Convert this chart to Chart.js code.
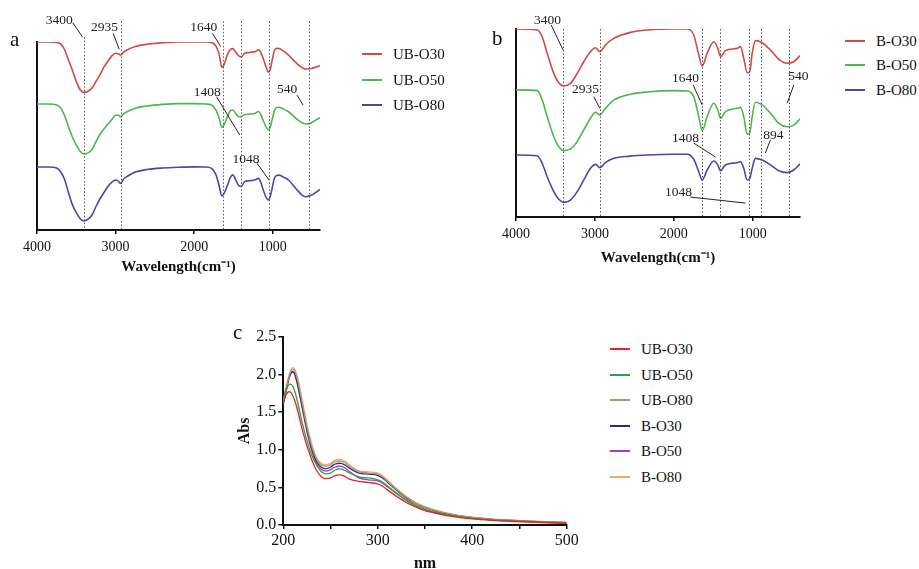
<!DOCTYPE html>
<html>
<head>
<meta charset="utf-8">
<script src="https://cdn.jsdelivr.net/npm/chart.js@4.4.1/dist/chart.umd.min.js"></script>
<style>
html, body { margin:0; padding:0; width:919px; height:569px; overflow:hidden; background:#fff; }
body { font-family:"Liberation Serif", "Times New Roman", serif; color:#111; }
canvas { position:absolute; }
.letter { position:absolute; font-size:21px; line-height:21px; }
.legend div { position:absolute; font-size:15px; line-height:18px; white-space:nowrap; }
.legend span { position:absolute; height:2px; width:20px; }
</style>
</head>
<body>
<canvas id="chartA" width="340" height="290" style="left:0;top:0;width:340px;height:290px"></canvas>
<canvas id="chartB" width="340" height="290" style="left:480px;top:0;width:340px;height:290px"></canvas>
<canvas id="chartC" width="360" height="260" style="left:230px;top:325px;width:360px;height:260px"></canvas>
<div class="letter" style="left:10px;top:29px">a</div>
<div class="letter" style="left:492px;top:28px">b</div>
<div class="letter" style="left:233px;top:322px">c</div>
<div class="legend" id="legA"></div>
<div class="legend" id="legB"></div>
<div class="legend" id="legC"></div>
<script>
// FTIR (a) - golfgetal en doorlaatbaarheid (willekeurige eenheid, verschoven)
const wnA = [4000, 3850, 3750, 3700, 3650, 3600, 3550, 3500, 3450, 3400, 3350, 3300, 3250, 3200, 3150, 3100, 3050, 3000, 2965, 2935, 2900, 2850, 2750, 2600, 2400, 2200, 2000, 1850, 1780, 1720, 1680, 1650, 1620, 1580, 1540, 1510, 1470, 1430, 1400, 1360, 1300, 1230, 1180, 1155, 1120, 1080, 1055, 1035, 1010, 980, 950, 920, 860, 800, 740, 680, 620, 580, 520, 460, 400];
const ubO30a = [100, 100, 99.7, 99, 96, 90.5, 85, 79, 74.5, 73.2, 73.8, 75.5, 79, 82.5, 86.5, 89.8, 92.5, 94, 93.8, 93.1, 94.6, 95.9, 97.6, 98.8, 99.6, 100, 100, 100, 99.8, 97.5, 93, 86.5, 88, 93, 96, 96.5, 94.5, 92.5, 92, 94, 94.4, 94.8, 95.8, 94.5, 91, 86, 84, 85, 90, 95.5, 96.6, 96.5, 95, 93, 90.5, 88, 86.2, 85.6, 85.8, 86.5, 87.5];
const ubO50a = [67, 67, 66.5, 65, 61, 55, 49.5, 45.2, 41.8, 40.4, 41, 42.8, 47, 50.8, 53.6, 56.2, 58.6, 61, 61, 60.2, 61.8, 63, 64.8, 66, 66.8, 67.2, 67.2, 67, 66.5, 63.5, 59, 54.6, 56, 60, 63.5, 63.8, 61.8, 60.2, 60.4, 61.3, 61.6, 62, 63, 61.5, 58, 54.3, 53.3, 54.5, 58.5, 63.5, 65.2, 65.3, 64.3, 62.9, 60.7, 58.5, 56.9, 56.4, 56.8, 58.3, 59.8];
const ubO80a = [33.5, 33.5, 33, 31, 27, 20, 13.5, 9.2, 6, 4.8, 5.8, 8, 12.5, 16.5, 19.8, 23, 25.3, 26.6, 26, 24.8, 27, 28.6, 30.8, 32.2, 33, 33.4, 33.6, 33.5, 32.8, 29, 23, 18.1, 19.5, 23.5, 28, 29.3, 26.5, 23.4, 23.2, 25.7, 26.2, 26.6, 27.5, 25.5, 21, 17, 16, 17.5, 22, 27.5, 29, 29.2, 28, 26.6, 23.8, 20.8, 18.3, 17.7, 18.3, 19.8, 21.6];
const namesA = ['UB-O30', 'UB-O50', 'UB-O80'];
const marksA = [3400, 2935, 1640, 1408, 1048, 540];

// FTIR (b)
const wnB = [4000, 3731, 3668, 3605, 3521, 3458, 3394, 3309, 3224, 3141, 3056, 2992, 2938, 2866, 2760, 2549, 2337, 2000, 1830, 1747, 1683, 1640, 1577, 1493, 1442, 1408, 1345, 1197, 1155, 1113, 1070, 1037, 1006, 965, 880, 774, 669, 563, 479, 400];
const bO30 = [100, 99.5, 95.9, 87.1, 76.4, 71.4, 69.7, 71.1, 76.4, 82.6, 87.9, 90, 87.9, 91.5, 95, 98.2, 99.5, 100, 100, 96.8, 86.2, 80.3, 87.1, 93.2, 89.7, 85.3, 88.5, 89.7, 90.6, 84.4, 76.8, 77.3, 87.1, 93.8, 92.7, 88.8, 83.9, 81.8, 82.6, 85.8];
const bO50 = [67.6, 67.2, 62.2, 53.4, 42.7, 37.4, 35.3, 36.2, 40.1, 46.3, 52.5, 55.7, 54.3, 57.8, 62.2, 65.3, 66.5, 67.2, 67, 64, 53.4, 45.9, 53.4, 60.5, 56.9, 52.5, 56, 57.8, 58.3, 53.4, 44.1, 44.8, 53.4, 61, 59.6, 55.2, 49.8, 48, 48.9, 52.2];
const bO80 = [33, 32.6, 28.6, 21.4, 13.5, 9.4, 7.8, 9, 13.5, 19.7, 25.9, 28, 26.2, 28.9, 31.2, 32.4, 33, 33.4, 33.4, 30.7, 24.1, 19.7, 25, 29.8, 27.7, 24.6, 27.7, 28.9, 29.4, 25.9, 19.7, 20.6, 25.9, 31.2, 30.3, 27.7, 24.6, 23.6, 25, 28.3];
const namesB = ['B-O30', 'B-O50', 'B-O80'];
const marksB = [3400, 2935, 1640, 1408, 1048, 894, 540];

const ticksIR = [4000, 3000, 2000, 1000];

// UV (c) - golflengte (nm) en absorbantie
const nmC = [200, 203, 206, 208, 210, 212, 215, 220, 225, 230, 235, 240, 245, 250, 255, 260, 265, 270, 280, 290, 300, 305, 310, 320, 330, 340, 350, 365, 380, 400, 420, 440, 460, 480, 500];
const uvUbO30 = [1.64, 1.73, 1.77, 1.76, 1.72, 1.66, 1.53, 1.27, 1.05, 0.87, 0.73, 0.645, 0.615, 0.625, 0.655, 0.665, 0.645, 0.61, 0.58, 0.565, 0.545, 0.515, 0.47, 0.38, 0.3, 0.24, 0.19, 0.145, 0.11, 0.08, 0.062, 0.05, 0.04, 0.03, 0.022];
const uvUbO50 = [1.68, 1.8, 1.86, 1.87, 1.84, 1.78, 1.64, 1.36, 1.12, 0.93, 0.8, 0.71, 0.68, 0.69, 0.73, 0.745, 0.725, 0.69, 0.64, 0.625, 0.6, 0.57, 0.52, 0.42, 0.33, 0.26, 0.205, 0.157, 0.12, 0.088, 0.068, 0.055, 0.045, 0.035, 0.027];
const uvUbO80 = [1.62, 1.8, 1.96, 2.04, 2.07, 2.05, 1.93, 1.62, 1.3, 1.05, 0.88, 0.8, 0.78, 0.8, 0.84, 0.85, 0.83, 0.78, 0.71, 0.69, 0.675, 0.64, 0.585, 0.47, 0.37, 0.29, 0.235, 0.178, 0.137, 0.1, 0.078, 0.063, 0.05, 0.04, 0.033];
const uvBO30 = [1.6, 1.78, 1.95, 2.02, 2.04, 2.01, 1.88, 1.58, 1.27, 1.02, 0.85, 0.77, 0.745, 0.77, 0.81, 0.82, 0.8, 0.755, 0.69, 0.675, 0.66, 0.625, 0.57, 0.46, 0.36, 0.285, 0.23, 0.172, 0.132, 0.097, 0.075, 0.06, 0.048, 0.039, 0.031];
const uvBO50 = [1.61, 1.78, 1.94, 2.01, 2.03, 2.0, 1.86, 1.55, 1.24, 0.99, 0.82, 0.74, 0.715, 0.735, 0.77, 0.78, 0.76, 0.71, 0.625, 0.6, 0.585, 0.555, 0.51, 0.42, 0.33, 0.26, 0.205, 0.156, 0.12, 0.087, 0.067, 0.054, 0.044, 0.034, 0.026];
const uvBO80 = [1.65, 1.84, 1.99, 2.06, 2.09, 2.07, 1.96, 1.66, 1.34, 1.08, 0.9, 0.82, 0.8, 0.82, 0.86, 0.87, 0.85, 0.8, 0.72, 0.705, 0.69, 0.655, 0.6, 0.48, 0.38, 0.3, 0.245, 0.185, 0.142, 0.105, 0.082, 0.066, 0.053, 0.043, 0.035];
const namesC = ['UB-O30', 'UB-O50', 'UB-O80', 'B-O30', 'B-O50', 'B-O80'];

const colorsIR = ['#d64848', '#4cb84c', '#4848a8'];
const colorsC = ['#e5232b', '#2e9d4c', '#a89a6c', '#2c2c78', '#9c3cc8', '#f3a66a'];

Chart.defaults.font.family = '"Liberation Serif", "Times New Roman", serif';
Chart.defaults.color = '#111';

// stippellijnen, verbindingslijnen en getallen bij de pieken
const markPlugin = {
	id: 'marks',
	afterDatasetsDraw(chart, args, opts) {
		const ctx = chart.ctx;
		const x = chart.scales.x, y = chart.scales.y;
		ctx.save();
		ctx.strokeStyle = '#555';
		ctx.lineWidth = 1;
		ctx.setLineDash([1.5, 2]);
		opts.lines.forEach(w => {
			const px = Math.round(x.getPixelForValue(w)) + 0.5;
			const top = opts.tops[w] !== undefined ? opts.tops[w] : opts.top;
			ctx.beginPath();
			ctx.moveTo(px, y.getPixelForValue(top));
			ctx.lineTo(px, y.getPixelForValue(0));
			ctx.stroke();
		});
		ctx.setLineDash([]);
		ctx.strokeStyle = '#222';
		ctx.fillStyle = '#222';
		ctx.font = '13.5px "Liberation Serif"';
		ctx.textAlign = 'center';
		ctx.textBaseline = 'middle';
		opts.labels.forEach(l => {
			ctx.beginPath();
			ctx.moveTo(x.getPixelForValue(l.from[0]), y.getPixelForValue(l.from[1]));
			ctx.lineTo(x.getPixelForValue(l.to[0]), y.getPixelForValue(l.to[1]));
			ctx.stroke();
			ctx.fillText(String(l.wn), x.getPixelForValue(l.at[0]), y.getPixelForValue(l.at[1]));
		});
		ctx.restore();
	}
};

function makeSets(xs, series, colors, width) {
	return series.map((s, i) => ({
		data: xs.map((v, j) => ({x: v, y: s[j]})),
		borderColor: colors[i],
		borderWidth: width,
		pointRadius: 0,
		cubicInterpolationMode: 'monotone',
		fill: false
	}));
}

function irConfig(xs, series, pad, xHeight, titlePad, marks) {
	return {
		type: 'line',
		data: {datasets: makeSets(xs, series, colorsIR, 1.6)},
		options: {
			responsive: false,
			animation: false,
			layout: {padding: pad},
			plugins: {legend: {display: false}, tooltip: {enabled: false}, marks: marks},
			scales: {
				x: {
					type: 'linear', reverse: true, min: 400, max: 4000,
					afterBuildTicks: s => { s.ticks = ticksIR.map(v => ({value: v})); },
					afterFit: s => { s.height = xHeight; },
					ticks: {font: {size: 14}, padding: 5, maxRotation: 0, callback: v => String(v)},
					grid: {drawOnChartArea: false, drawTicks: true, tickLength: 4, color: '#111', lineWidth: 1.5},
					border: {display: true, color: '#111', width: 2},
					title: {display: true, text: 'Wavelength(cm⁻¹)', font: {size: 15, weight: 'bold'}, padding: {top: 0, bottom: titlePad}}
				},
				y: {
					min: 0, max: 100,
					afterFit: s => { s.width = 0; },
					ticks: {display: false},
					grid: {drawOnChartArea: false, drawTicks: false},
					border: {display: true, color: '#111', width: 2}
				}
			}
		},
		plugins: [markPlugin]
	};
}

new Chart(document.getElementById('chartA'), irConfig(wnA, [ubO30a, ubO50a, ubO80a],
	{left: 37, top: 42, right: 20, bottom: 0}, 60, 14, {
		lines: marksA, top: 111, tops: {3400: 102.5},
		labels: [
			{wn: 3400, at: [3717, 111.7], from: [3546, 110.3], to: [3419, 102.5]},
			{wn: 2935, at: [3142, 107.7], from: [3031, 104.6], to: [2954, 96.1]},
			{wn: 1640, at: [1878, 107.7], from: [1768, 104.6], to: [1662, 97.5]},
			{wn: 1408, at: [1834, 73.4], from: [1717, 70.9], to: [1421, 50.5]},
			{wn: 540, at: [817, 75], from: [693, 71.8], to: [616, 66.5]},
			{wn: 1048, at: [1341, 37.5], from: [1201, 35.5], to: [1048, 26.6]}
		]
	}));

new Chart(document.getElementById('chartB'), irConfig(wnB, [bO30, bO50, bO80],
	{left: 36, top: 29, right: 20, bottom: 0}, 73, 23, {
		lines: marksB, top: 100, tops: {},
		labels: [
			{wn: 3400, at: [3601, 104.8], from: [3554, 102.1], to: [3402, 88.8]},
			{wn: 2935, at: [3119, 67.6], from: [3014, 64], to: [2938, 57.8]},
			{wn: 1640, at: [1852, 73.9], from: [1754, 70.2], to: [1640, 59.6]},
			{wn: 540, at: [420, 74.5], from: [479, 70.2], to: [563, 60.5]},
			{wn: 1408, at: [1852, 42], from: [1750, 39.4], to: [1471, 31.9]},
			{wn: 894, at: [737, 43.6], from: [775, 41], to: [839, 34]},
			{wn: 1048, at: [1940, 13.3], from: [1788, 10.6], to: [1091, 7.4]}
		]
	}));

new Chart(document.getElementById('chartC'), {
	type: 'line',
	data: {datasets: makeSets(nmC, [uvUbO30, uvUbO50, uvUbO80, uvBO30, uvBO50, uvBO80], colorsC, 1.3)},
	options: {
		responsive: false,
		animation: false,
		layout: {padding: {left: 0, top: 11.7, right: 23.3, bottom: 0}},
		plugins: {legend: {display: false}, tooltip: {enabled: false}},
		scales: {
			x: {
				type: 'linear', min: 200, max: 500,
				afterFit: s => { s.height = 60; },
				ticks: {stepSize: 50, font: {size: 16}, padding: 2, maxRotation: 0, autoSkip: false,
					callback: v => (v % 100 === 0 ? String(v) : '')},
				grid: {drawOnChartArea: false, drawTicks: true, tickLength: 4, color: '#111', lineWidth: 1.5},
				border: {display: true, color: '#111', width: 2},
				title: {display: true, text: 'nm', font: {size: 16, weight: 'bold'}, padding: {top: 0, bottom: 12}}
			},
			y: {
				min: 0, max: 2.5,
				afterFit: s => { s.width = 53.3; },
				ticks: {stepSize: 0.5, font: {size: 16}, padding: 2, callback: v => v.toFixed(1)},
				grid: {drawOnChartArea: false, drawTicks: true, tickLength: 5, color: '#111', lineWidth: 1.5},
				border: {display: true, color: '#111', width: 2},
				title: {display: true, text: 'Abs', font: {size: 16, weight: 'bold'}, padding: {top: 5, bottom: 0}}
			}
		}
	}
});

// legenda als tekst naast de grafieken
function buildLegend(id, names, colors, left, firstY, gap) {
	const box = document.getElementById(id);
	names.forEach((n, i) => {
		const yc = Math.round(firstY + i * gap);
		const line = document.createElement('span');
		line.style.left = left + 'px';
		line.style.top = (yc - 1) + 'px';
		line.style.background = colors[i];
		const txt = document.createElement('div');
		txt.textContent = n;
		txt.style.left = (left + 31) + 'px';
		txt.style.top = (yc - 9) + 'px';
		box.appendChild(line);
		box.appendChild(txt);
	});
}
buildLegend('legA', namesA, colorsIR, 362, 54, 25.5);
buildLegend('legB', namesB, colorsIR, 845, 40.7, 24.7);
buildLegend('legC', namesC, colorsC, 610, 349.3, 25.5);
</script>
</body>
</html>
